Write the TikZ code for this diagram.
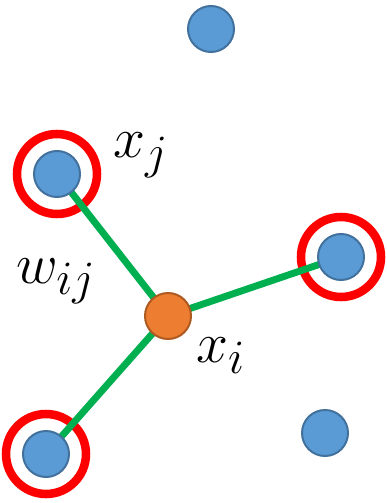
\documentclass[tikz,border=0pt]{standalone}
\usepackage{amsmath}
\usepackage{graphicx}
\usepackage{xcolor}
\usetikzlibrary{calc}

\definecolor{dotblue}{HTML}{5B9BD5}
\definecolor{dotedge}{HTML}{41719C}
\definecolor{ctrorange}{HTML}{ED7D31}
\definecolor{ctredge}{HTML}{AE5A21}
\definecolor{edgegreen}{HTML}{00B050}
\newcommand{\biglbl}[1]{\scalebox{1.73}{$#1$}}

\begin{document}
\begin{tikzpicture}[x=0.75pt,y=-0.75pt,
    nbr/.style={circle,fill=dotblue,draw=dotedge,line width=1.5pt,minimum size=34.5pt,inner sep=0pt},
    ctr/.style={circle,fill=ctrorange,draw=ctredge,line width=1.5pt,minimum size=34.5pt,inner sep=0pt},
    ring/.style={draw=red,line width=6.4pt},
    wedge/.style={draw=edgegreen,line width=5.2pt},
    lbl/.style={inner sep=0pt,anchor=base west,font=\Huge}]
    \useasboundingbox (0,0) rectangle (386,503);
    % Punkte (Pixelkoordinaten, y nach unten)
    \coordinate (xc) at (211,29);
    \coordinate (xj) at (57,174);
    \coordinate (xa) at (341,257);
    \coordinate (xi) at (168,316);
    \coordinate (xd) at (325,433);
    \coordinate (xb) at (46,454);
    % ausgewaehlte Nachbarn rot umkreist
    \foreach \p in {xj,xa,xb}{
      \draw[ring] (\p) circle[radius=30pt];
    }
    % Gewichte als Kanten
    \foreach \p in {xj,xa,xb}{
      \draw[wedge] (xi) -- (\p);
    }
    \foreach \p in {xc,xj,xa,xd,xb}{
      \node[nbr] (n\p) at (\p) {};
    }
    \node[ctr] (nxi) at (xi) {};
    \node[lbl] (lxj) at (113,157) {\biglbl{x_j}};
    \node[lbl] (lwij) at (16,283) {\biglbl{w_{ij}}};
    \node[lbl] (lxi) at (196,362) {\biglbl{x_i}};
  \end{tikzpicture}
\end{document}
